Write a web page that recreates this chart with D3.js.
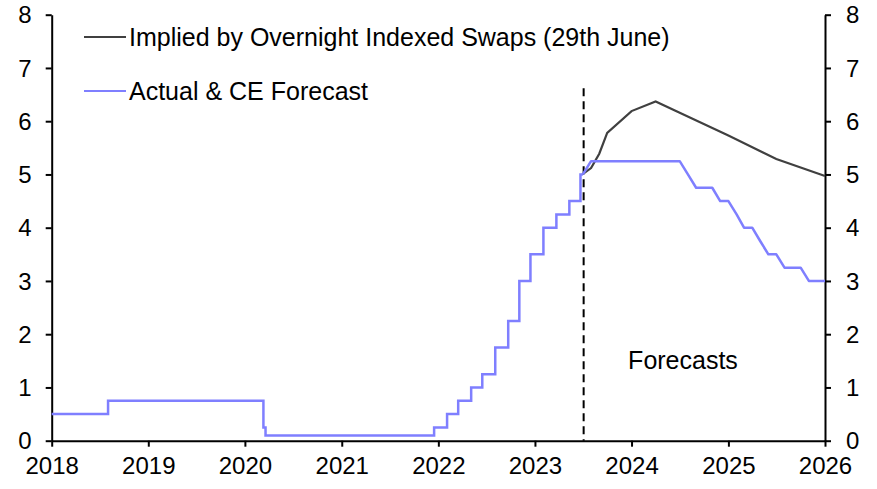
<!DOCTYPE html>
<html>
<head>
<meta charset="utf-8">
<script src="https://cdn.jsdelivr.net/npm/d3@7"></script>
<style>
  body { margin: 0; background: #fff; }
  svg { display: block; font-family: "Liberation Sans", Arial, sans-serif; }
</style>
</head>
<body>
<svg id="chart" width="877" height="489"></svg>
<script>
// Bank Rate: actual changes (step) then CE forecast (monthly)
var actualDates = ["2018-01-01", "2018-08-02", "2020-03-11", "2020-03-19", "2021-12-16",
  "2022-02-03", "2022-03-17", "2022-05-05", "2022-06-16", "2022-08-04", "2022-09-22",
  "2022-11-03", "2022-12-15", "2023-02-02", "2023-03-23", "2023-05-11", "2023-06-22", "2023-07-01"];
var actualRates = [0.5, 0.75, 0.25, 0.1, 0.25, 0.5, 0.75, 1.0, 1.25, 1.75, 2.25,
  3.0, 3.5, 4.0, 4.25, 4.5, 5.0, 5.0];

var forecastDates = ["2023-07-01", "2023-08-01", "2024-07-01", "2024-08-01", "2024-09-01",
  "2024-11-01", "2024-12-01", "2025-01-01", "2025-02-01", "2025-03-01", "2025-04-01",
  "2025-05-01", "2025-06-01", "2025-07-01", "2025-08-01", "2025-10-01", "2025-11-01", "2026-01-01"];
var forecastRates = [5.0, 5.25, 5.25, 5.0, 4.75, 4.75, 4.5, 4.5, 4.25, 4.0, 4.0,
  3.75, 3.5, 3.5, 3.25, 3.25, 3.0, 3.0];

// Implied by OIS (29th June)
var oisDates = ["2023-06-29", "2023-08-01", "2023-09-01", "2023-10-01", "2024-01-01",
  "2024-04-01", "2024-07-01", "2025-01-01", "2025-07-01", "2026-01-01"];
var oisRates = [5.0, 5.12, 5.39, 5.78, 6.19, 6.37, 6.16, 5.73, 5.29, 4.97];

var yTicks = [0, 1, 2, 3, 4, 5, 6, 7, 8];
var xDomain = ["2018-01-01", "2026-01-01"];
var forecastStart = "2023-07-04";
var seriesNames = ["Implied by Overnight Indexed Swaps (29th June)", "Actual & CE Forecast"];
var seriesColors = ["#404040", "#7f7fff"];

var parse = d3.timeParse("%Y-%m-%d");
var svg = d3.select("#chart");

var x = d3.scaleTime().domain(xDomain.map(parse)).range([51.7, 825]);
var y = d3.scaleLinear().domain([0, 8]).range([440.7, 14.7]);

function pts(dates, vals) {
  return dates.map(function (d, i) { return [parse(d), vals[i]]; });
}

// axes
var fs = "24px";
var gl = svg.append("g").attr("transform", "translate(" + x.range()[0] + ",0)")
  .call(d3.axisLeft(y).tickValues(yTicks).tickSize(6).tickSizeOuter(0).tickPadding(14));
var gr = svg.append("g").attr("transform", "translate(" + x.range()[1] + ",0)")
  .call(d3.axisRight(y).tickValues(yTicks).tickSize(6).tickSizeOuter(0).tickPadding(15));
var gb = svg.append("g").attr("transform", "translate(0," + y(0) + ")")
  .call(d3.axisBottom(x).ticks(d3.timeYear.every(1)).tickFormat(d3.timeFormat("%Y"))
    .tickSize(6).tickSizeOuter(0).tickPadding(10));

[gl, gr, gb].forEach(function (g) {
  g.selectAll("path, line").attr("stroke", "#000").attr("stroke-width", 2);
  g.selectAll("text").attr("fill", "#000").style("font-size", fs)
    .style("font-family", "'Liberation Sans', Arial, sans-serif");
});
gl.selectAll("text").attr("dy", "0.34em");
gr.selectAll("text").attr("dy", "0.34em");
gb.selectAll("text").attr("dy", "0.72em");

// forecast divider
svg.append("line")
  .attr("x1", x(parse(forecastStart))).attr("x2", x(parse(forecastStart)))
  .attr("y1", y(6.62)).attr("y2", y(0))
  .attr("stroke", "#000").attr("stroke-width", 2).attr("stroke-dasharray", "8,5");

svg.append("text").attr("x", 683).attr("y", 369).attr("text-anchor", "middle")
  .style("font-size", "25px").text("Forecasts");

// lines
var lineStep = d3.line().x(function (d) { return x(d[0]); }).y(function (d) { return y(d[1]); })
  .curve(d3.curveStepAfter);
var lineLin = d3.line().x(function (d) { return x(d[0]); }).y(function (d) { return y(d[1]); });

svg.append("path").datum(pts(oisDates, oisRates))
  .attr("d", lineLin).attr("fill", "none")
  .attr("stroke", seriesColors[0]).attr("stroke-width", 2.2);

svg.append("path").datum(pts(actualDates, actualRates))
  .attr("d", lineStep).attr("fill", "none")
  .attr("stroke", seriesColors[1]).attr("stroke-width", 2.5);
svg.append("path").datum(pts(forecastDates, forecastRates))
  .attr("d", lineLin).attr("fill", "none")
  .attr("stroke", seriesColors[1]).attr("stroke-width", 2.5).attr("stroke-linejoin", "round");

// legend
var legY = [37, 91];
seriesNames.forEach(function (name, i) {
  svg.append("line").attr("x1", 84).attr("x2", 126).attr("y1", legY[i]).attr("y2", legY[i])
    .attr("stroke", seriesColors[i]).attr("stroke-width", 2);
  svg.append("text").attr("x", 129).attr("y", legY[i]).attr("dy", "0.36em")
    .style("font-size", "25px").text(name);
});
</script>
</body>
</html>
